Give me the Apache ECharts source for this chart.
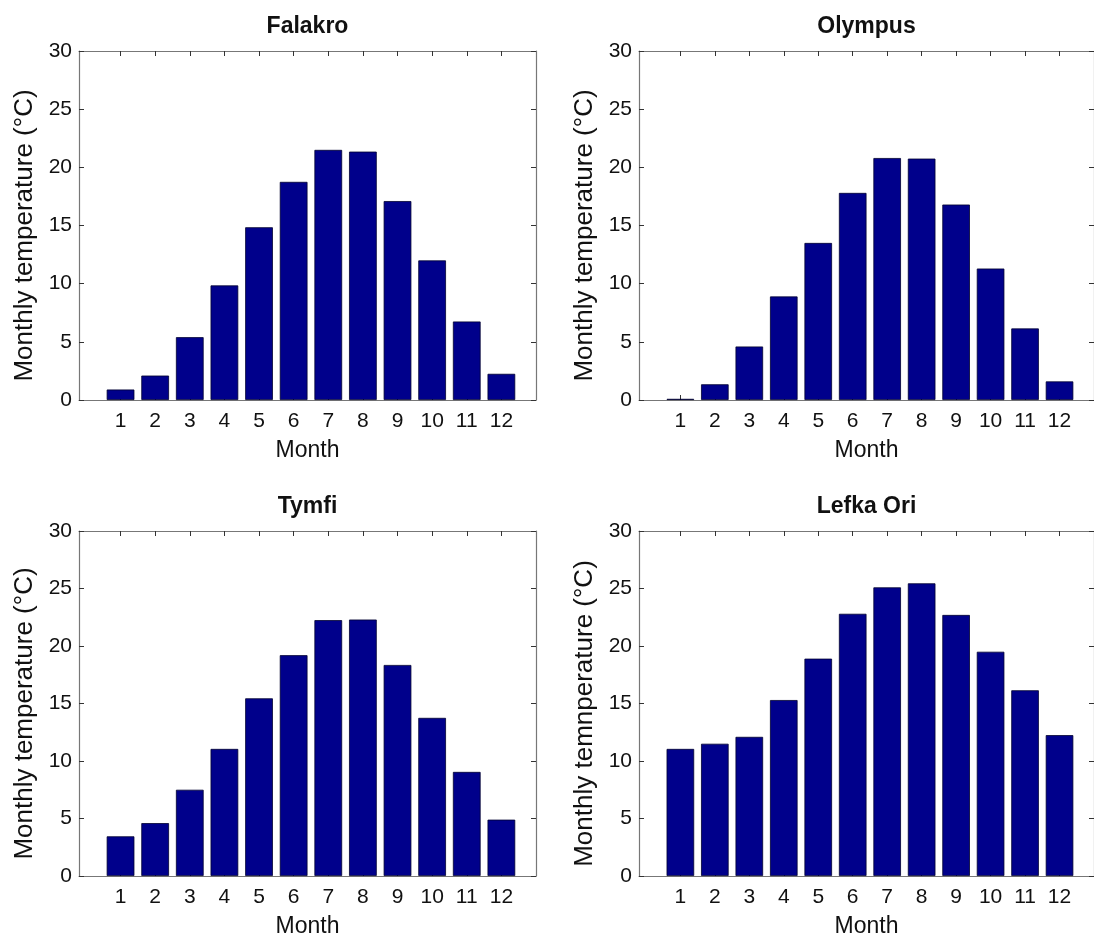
<!DOCTYPE html>
<html>
<head>
<meta charset="utf-8">
<title>Monthly temperature</title>
<script src="https://cdn.jsdelivr.net/npm/echarts@6/dist/echarts.min.js"></script>
<style>
  html, body { margin: 0; padding: 0; background: #fff; }
  #main { width: 1094px; height: 939px; }
</style>
</head>
<body>
<div id="main"></div>
<script>
// months on the x axis
const months = [1, 2, 3, 4, 5, 6, 7, 8, 9, 10, 11, 12];

// mean monthly temperature per station
const falakro = [0.9, 2.1, 5.4, 9.85, 14.85, 18.75, 21.5, 21.35, 17.1, 12.0, 6.75, 2.25];
const olympus = [0.1, 1.35, 4.6, 8.9, 13.5, 17.8, 20.8, 20.75, 16.8, 11.3, 6.15, 1.6];
const tymfi = [3.45, 4.6, 7.5, 11.05, 15.45, 19.2, 22.25, 22.3, 18.35, 13.75, 9.05, 4.9];
const lefkaOri = [11.05, 11.5, 12.1, 15.3, 18.9, 22.8, 25.1, 25.45, 22.7, 19.5, 16.15, 12.25];

const titles = ['Falakro', 'Olympus', 'Tymfi', 'Lefka Ori'];
const yNames = [
    'Monthly temperature (°C)',
    'Monthly temperature (°C)',
    'Monthly temperature (°C)',
    'Monthly temnperature (°C)'
];
const seriesData = [falakro, olympus, tymfi, lefkaOri];

const FONT = "'Liberation Sans', Arial, sans-serif";
const FRAME = '#777';

// panel boxes in pixels
const panels = [
    { left: 79, top: 51, width: 457, height: 349 },
    { left: 639, top: 51, width: 455, height: 349 },
    { left: 79, top: 531, width: 457, height: 349 },
    { left: 639, top: 531, width: 455, height: 349 }
];

const grid = [];
const xAxis = [];
const yAxis = [];
const series = [];
const graphic = [];

panels.forEach((p, i) => {
    grid.push({ left: p.left, top: p.top, width: p.width, height: p.height, containLabel: false });

    const tickStyle = { show: true, inside: true, length: 5, lineStyle: { color: '#333', width: 1 } };
    const lineStyle = { color: FRAME, width: 1.2 };

    // bottom x axis with labels
    xAxis.push({
        type: 'value', gridIndex: i, position: 'bottom',
        min: -0.2, max: 13,
        name: 'Month', nameLocation: 'middle', nameGap: 39,
        nameTextStyle: { fontFamily: FONT, fontSize: 23, color: '#111' },
        axisLine: { show: true, onZero: false, lineStyle },
        axisTick: Object.assign({ customValues: months }, tickStyle),
        axisLabel: { customValues: months, margin: 11, fontFamily: FONT, fontSize: 21, color: '#111' },
        splitLine: { show: false }
    });
    // top x axis, frame + ticks only
    xAxis.push({
        type: 'value', gridIndex: i, position: 'top',
        min: -0.2, max: 13,
        axisLine: { show: true, onZero: false, lineStyle },
        axisTick: Object.assign({ customValues: months }, tickStyle),
        axisLabel: { show: false },
        splitLine: { show: false }
    });

    yAxis.push({
        type: 'value', gridIndex: i, position: 'left',
        min: 0, max: 30, interval: 5,
        name: yNames[i], nameLocation: 'middle', nameGap: 41,
        nameTextStyle: { fontFamily: FONT, fontSize: 26, color: '#111', padding: [0, 20, 0, 0] },
        axisLine: { show: true, onZero: false, lineStyle },
        axisTick: tickStyle,
        axisLabel: { margin: 7, fontFamily: FONT, fontSize: 21, color: '#111' },
        splitLine: { show: false }
    });
    yAxis.push({
        type: 'value', gridIndex: i, position: 'right',
        min: 0, max: 30, interval: 5,
        axisLine: { show: true, onZero: false, lineStyle },
        axisTick: tickStyle,
        axisLabel: { show: false },
        splitLine: { show: false }
    });

    series.push({
        type: 'bar',
        name: titles[i],
        xAxisIndex: 2 * i,
        yAxisIndex: 2 * i,
        barWidth: 0.8 * p.width / 13.2,
        data: months.map((m, k) => [m, seriesData[i][k]]),
        itemStyle: { color: '#00008B', borderColor: '#000030', borderWidth: 0.8 },
        silent: true
    });

    graphic.push({
        type: 'text',
        x: p.left + p.width / 2,
        y: p.top - 36,
        style: {
            text: titles[i],
            font: 'bold 23px ' + FONT,
            fill: '#111',
            textAlign: 'center',
            textVerticalAlign: 'top'
        }
    });
});

const chart = echarts.init(document.getElementById('main'), null, { renderer: 'canvas' });
chart.setOption({
    animation: false,
    backgroundColor: '#fff',
    grid,
    xAxis,
    yAxis,
    series,
    graphic
});
</script>
</body>
</html>
